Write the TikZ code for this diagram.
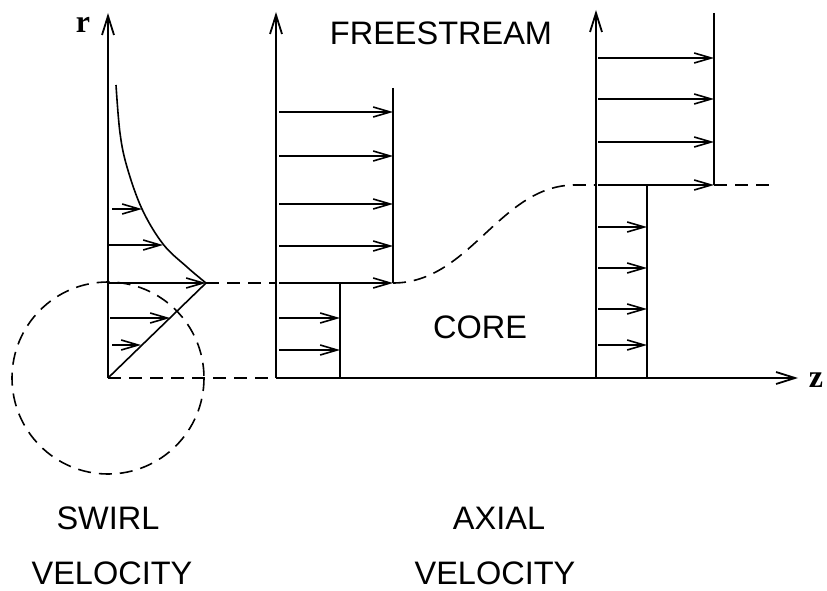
\documentclass[tikz,border=0pt]{standalone}
\usepackage{fontspec}
\setmainfont{Liberation Serif}
\newfontfamily\lbsans{Liberation Sans}
\usetikzlibrary{arrows.meta}
\begin{document}
\begin{tikzpicture}[x=1pt,y=-1pt,
  axis/.style={line width=1.8pt,-{Straight Barb[length=19pt,width=12pt,line width=1.8pt]}},
  vel/.style={line width=1.6pt,-{Straight Barb[length=17pt,width=10pt,line width=1.6pt]}},
  prof/.style={line width=1.6pt},
  dsh/.style={line width=1.6pt,dash pattern=on 13pt off 8pt},
  lbl/.style={font=\lbsans\fontsize{32.5}{38}\selectfont,inner sep=0pt,anchor=base},
  axlbl/.style={font=\bfseries\fontsize{32}{38}\selectfont,inner sep=0pt,anchor=base}]
\useasboundingbox (0,0) rectangle (827,591);
% coordinates
\coordinate (O1) at (108,378);
\coordinate (T1) at (108,13);
\coordinate (O2) at (276,378);
\coordinate (T2) at (276,12);
\coordinate (O3) at (596,378);
\coordinate (T3) at (596,10);
\coordinate (Z) at (798,378);
\coordinate (tip) at (206,283);
% swirl profile
\draw[axis] (O1) -- (T1);
\draw[prof] plot[smooth,tension=0.6] coordinates {(116,85) (120,133) (127,167) (142,209) (163,244) (187,267) (206,283)};
\draw[prof] (tip) -- (O1);
\draw[vel] (112,209) -- (142,209);
\draw[vel] (109,245) -- (163,245);
\draw[vel] (109,283) -- (tip);
\draw[vel] (110,318) -- (170,318);
\draw[vel] (112,345) -- (141,345);
\draw[dsh] (O1) circle[radius=96];
% dashed lines
\draw[dsh] (O1) -- (O2);
\draw[dsh] (tip) -- (276,283);
\draw[dsh] (393,283) .. controls (470,283) and (500,185) .. (575,185) -- (O3 |- 0,185);
\draw[dsh] (714,185) -- (770,185);
% axial axes
\draw[axis] (O2) -- (T2);
\draw[axis] (O3) -- (T3);
\draw[axis] (O2) -- (Z);
% second profile
\draw[prof] (393,88) -- (393,283);
\draw[prof] (340,283) -- (340,378);
\foreach \y in {112,156,204,246,283} \draw[vel] (279,\y) -- (393,\y);
\foreach \y in {318,350} \draw[vel] (279,\y) -- (340,\y);
% third profile
\draw[prof] (714,13) -- (714,185);
\draw[prof] (647,185) -- (647,378);
\foreach \y in {58,99,142,185} \draw[vel] (598,\y) -- (714,\y);
\foreach \y in {227,268,309,345} \draw[vel] (598,\y) -- (647,\y);
% labels
\node[axlbl] (r) at (83,33) {r};
\node[axlbl] (z) at (816,387) {z};
\node[lbl] (free) at (441,45) {FREESTREAM};
\node[lbl] (core) at (480,338) {CORE};
\node[lbl] (swirl) at (108,529) {SWIRL};
\node[lbl] (vel1) at (112,584) {VELOCITY};
\node[lbl] (axial) at (499,529) {AXIAL};
\node[lbl] (vel2) at (495,584) {VELOCITY};
\end{tikzpicture}
\end{document}
